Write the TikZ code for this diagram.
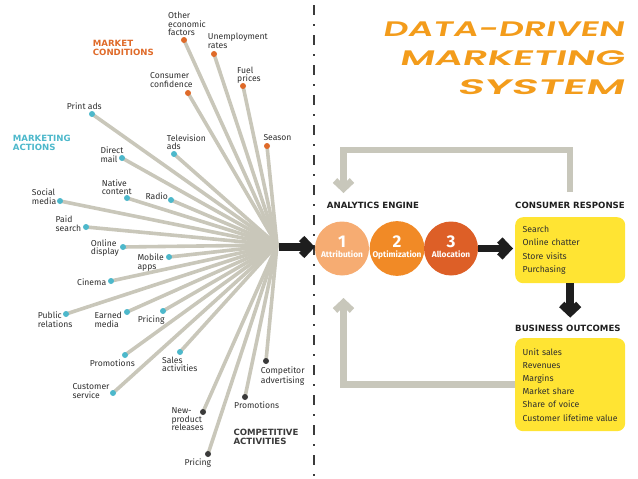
\documentclass[tikz,border=0pt]{standalone}
\usepackage{graphicx}
\usepackage{fontspec}
\setmainfont{Fira Sans}
\newfontfamily\titlefont[FakeSlant=0.2,FakeStretch=1.66,BoldFont={Poppins SemiBold}]{Poppins}
\newfontfamily\headfont{DejaVu Sans}
\usetikzlibrary{arrows.meta,backgrounds}
\definecolor{RayGray}{HTML}{C9C7BA}
\definecolor{LoopGray}{HTML}{C8C7BB}
\definecolor{AccentCyan}{HTML}{4DB8CB}
\definecolor{AccentOrange}{HTML}{DF6A29}
\definecolor{AccentDark}{HTML}{3A3A3A}
\definecolor{StepA}{HTML}{F6AC72}
\definecolor{StepB}{HTML}{F18A26}
\definecolor{StepC}{HTML}{DD5F27}
\definecolor{BoxYellow}{HTML}{FFE433}
\definecolor{TitleOrange}{HTML}{F39C1B}
\definecolor{InkDark}{HTML}{2E2E2E}
\definecolor{ArrowBlack}{HTML}{1E1E1E}

\tikzset{
  mkdot/.style={circle,inner sep=0pt,minimum size=6pt,fill=#1},
  ray/.style={RayGray,line width=3.6pt},
  lbl/.style={anchor=north west,inner sep=0pt,align=left,text=InkDark,
    font=\fontsize{8.6}{8.5}\selectfont},
  grouphead/.style={anchor=north west,inner sep=0pt,align=left,text=#1,
    font=\headfont\bfseries\fontsize{8.6}{9}\selectfont},
  stepcirc/.style={circle,fill=#1,minimum size=54pt,inner sep=0pt,text=white,
    align=center,text depth=3pt,font=\fontsize{8.3}{10}\selectfont\bfseries},
  ybox/.style={rounded corners=8pt,fill=BoxYellow,anchor=north west,
    text width=95pt,inner xsep=7.5pt,inner ysep=2pt,align=left,text=InkDark,
    font=\fontsize{8.7}{13.2}\selectfont},
  bigarrow/.style={ArrowBlack,line width=7.5pt,-{Straight Barb[length=8pt,width=17pt]}},
  looparrow/.style={LoopGray,line width=6.5pt,-{Straight Barb[length=8pt,width=17pt]}},
  divider/.style={AccentDark,line width=2pt,dash pattern=on 10pt off 9pt on 2pt off 9pt,dash phase=25pt}
}
\newcommand{\stepnum}[1]{{\fontsize{17}{14}\selectfont #1}}

\begin{document}
\begin{tikzpicture}[x=1pt,y=-1pt]
  \useasboundingbox (0,0) rectangle (638,479);
  % title
  \node[anchor=north east,inner sep=0pt,align=right,text=TitleOrange,
    font=\titlefont\bfseries\fontsize{21}{29}\selectfont] (title) at (624,22)
    {DATA-DRIVEN\\\scalebox{1.11}[1]{MARKETING}\\\scalebox{1.24}[1]{SYSTEM}};
  % divider
  \draw[divider] (314.3,0) -- (314.3,479);
  % hub of the rays
  \coordinate (hub) at (277,245);
  % market conditions
  \foreach \n/\x/\y in {oef/184/40,unemp/214/54,fuel/243/86,conf/188/93,season/267/146}
    \node[mkdot=AccentOrange] (\n) at (\x,\y) {};
  % marketing actions
  \foreach \n/\x/\y in {print/92/114,tv/174/154,direct/122/158,native/127/198,radio/171/200,
      social/60/201,paid/86/227,online/123/247,mobile/169/257,cinema/111/281,public/66/314,
      earned/127/312,pricing/163/311,promo/125/355,sales/180/352,cust/113/393}
    \node[mkdot=AccentCyan] (\n) at (\x,\y) {};
  % competitive activities
  \foreach \n/\x/\y in {compadv/266/361,comppromo/245/397,newprod/203/412,comppricing/208/454}
    \node[mkdot=AccentDark] (\n) at (\x,\y) {};
  \begin{scope}[on background layer]
    \foreach \n in {oef,unemp,fuel,conf,season,print,tv,direct,native,radio,social,paid,
        online,mobile,cinema,public,earned,pricing,promo,sales,cust,compadv,comppromo,
        newprod,comppricing}
      \draw[ray] (hub) -- (\n.center);
  \end{scope}
  % group headers
  \node[grouphead=AccentOrange] (mchead) at (92.7,40) {MARKET\\CONDITIONS};
  \node[grouphead=AccentCyan] (mahead) at (12.7,134.7) {MARKETING\\ACTIONS};
  \node[grouphead=AccentDark] (cahead) at (233.3,429.3) {COMPETITIVE\\ACTIVITIES};
  % labels
  \node[lbl] (oeflbl) at (168,12) {Other\\economic\\factors};
  \node[lbl] (unemplbl) at (207.7,33) {Unemployment\\rates};
  \node[lbl] (fuellbl) at (237,66.5) {Fuel\\prices};
  \node[lbl] (conflbl) at (150,72.5) {Consumer\\confidence};
  \node[lbl] (seasonlbl) at (263.3,134.5) {Season};
  \node[lbl] (printlbl) at (66.7,103) {Print ads};
  \node[lbl] (tvlbl) at (166.7,134.3) {Television\\ads};
  \node[lbl] (directlbl) at (100.3,147) {Direct\\mail};
  \node[lbl] (nativelbl) at (101.7,179.3) {Native\\content};
  \node[lbl] (radiolbl) at (145.3,192.3) {Radio};
  \node[lbl] (sociallbl) at (31.7,189) {Social\\media};
  \node[lbl] (paidlbl) at (55.5,216) {Paid\\search};
  \node[lbl] (onlinelbl) at (90.7,239.3) {Online\\display};
  \node[lbl] (mobilelbl) at (137.3,253.7) {Mobile\\apps};
  \node[lbl] (cinemalbl) at (77,278.7) {Cinema};
  \node[lbl] (publiclbl) at (37.7,311.7) {Public\\relations};
  \node[lbl] (earnedlbl) at (94.3,312.3) {Earned\\media};
  \node[lbl] (pricinglbl) at (137.7,315.7) {Pricing};
  \node[lbl] (promolbl) at (89.7,359.3) {Promotions};
  \node[lbl] (saleslbl) at (162,356.7) {Sales\\activities};
  \node[lbl] (custlbl) at (72.3,383.3) {Customer\\service};
  \node[lbl] (compadvlbl) at (260.7,366.7) {Competitor\\advertising};
  \node[lbl] (comppromolbl) at (234,401.3) {Promotions};
  \node[lbl] (newprodlbl) at (171.3,407.7) {New-\\product\\releases};
  \node[lbl] (comppricinglbl) at (184.3,458.7) {Pricing};
  % analytics engine
  \node[grouphead=ArrowBlack] (aelbl) at (326.7,202.3) {ANALYTICS ENGINE};
  \node[stepcirc=StepA] (attr) at (342,248.5) {\stepnum{1}\\Attribution};
  \node[stepcirc=StepB] (optim) at (397,248.5) {\stepnum{2}\\Optimization};
  \node[stepcirc=StepC] (alloc) at (451,248.5) {\stepnum{3}\\Allocation};
  % consumer response and business outcomes
  \node[grouphead=ArrowBlack] (crlbl) at (515,202.3) {CONSUMER RESPONSE};
  \node[ybox,minimum height=66pt] (crbox) at (515,217)
    {Search\\Online chatter\\Store visits\\Purchasing};
  \node[grouphead=ArrowBlack] (bolbl) at (515,324.6) {BUSINESS OUTCOMES};
  \node[ybox,minimum height=93pt] (bobox) at (515,338)
    {Unit sales\\Revenues\\Margins\\Market share\\Share of voice\\Customer lifetime value};
  % black arrows
  \coordinate (hubout) at (279,247);
  \draw[bigarrow] (hubout) -- (hubout -| attr.west);
  \draw[bigarrow] (alloc.east) -- ([xshift=-2pt]crbox.west |- alloc.east);
  \draw[bigarrow] (crbox.south) -- ([yshift=7pt]crbox.south |- bolbl.north);
  % feedback loops
  \coordinate (crtop) at (570,192);
  \coordinate (aetop) at (343.5,193);
  \coordinate (aebot) at (343.5,298);
  \draw[looparrow] (crtop) -- ++(0,-42) -| (aetop);
  \draw[looparrow] (bobox.west) -| (aebot);
\end{tikzpicture}
\end{document}
